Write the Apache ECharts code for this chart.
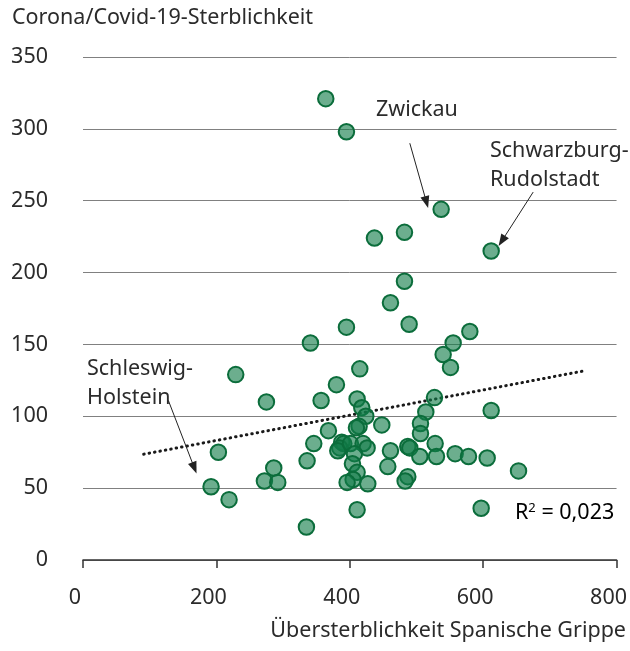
<!DOCTYPE html>
<html>
<head>
<meta charset="utf-8">
<script src="https://cdn.jsdelivr.net/npm/echarts@6/dist/echarts.min.js"></script>
<style>
  html, body { margin: 0; padding: 0; background: #fff; }
  #chart { width: 630px; height: 651px; }
</style>
</head>
<body>
<div id="chart"></div>
<script>
// Übersterblichkeit Spanische Grippe (x) vs. Corona/Covid-19-Sterblichkeit (y)
const xValues = [
  364, 395, 537, 437, 482, 612, 482, 461, 395, 489,
  580, 555, 341, 540, 551, 415, 229, 380, 527, 275,
  357, 411, 418, 424, 514, 612, 506, 506, 368, 414,
  410, 448, 346, 388, 391, 385, 382, 401, 420, 426,
  407, 461, 487, 490, 528, 336, 404, 505, 530, 558,
  578, 606, 286, 272, 292, 192, 219, 203, 411, 405,
  396, 457, 427, 487, 483, 653, 411, 335, 597
]
const yValues = [
  321, 298, 244, 224, 228, 215, 194, 179, 162, 164,
  159, 151, 151, 143, 134, 133, 129, 122, 113, 110,
  111, 112, 106, 100, 103, 104, 95, 88, 90, 93,
  92, 94, 81, 82, 81, 78, 76, 81, 81, 78,
  74, 76, 79, 78, 81, 69, 67, 72, 72, 74,
  72, 71, 64, 55, 54, 51, 42, 75, 61, 56,
  54, 65, 53, 58, 55, 62, 35, 23, 36
]
// Trendlinie (linear, R² = 0,023)
const trendX = [91, 749]
const trendY = [73.6, 131.4]

const yTicks = [0, 50, 100, 150, 200, 250, 300, 350]
const xTicks = [0, 200, 400, 600, 800]

const font = '"Noto Sans", Lato, sans-serif'
const textColor = '#2b2b2b'
const fs = 21.5

const points = xValues.map((x, i) => [x, yValues[i]])

const chart = echarts.init(document.getElementById('chart'))

const arrowLine = (from, to) => [
  { coord: from, symbol: 'none' },
  { coord: to, symbol: 'triangle' }
]

const option = {
  animation: false,
  grid: { left: 83, right: 2, top: 57, bottom: 91 },
  xAxis: {
    type: 'value',
    min: xTicks[0],
    max: xTicks[xTicks.length - 1],
    interval: 200,
    axisLine: { show: true, lineStyle: { color: '#333', width: 1.5 } },
    axisTick: { show: true, length: 8, lineStyle: { color: '#333', width: 1.5 } },
    splitLine: { show: false },
    axisLabel: {
      color: textColor, fontFamily: font, fontSize: fs, margin: 27,
      padding: [0, 16, 0, 0]
    }
  },
  yAxis: {
    type: 'value',
    min: yTicks[0],
    max: yTicks[yTicks.length - 1],
    interval: 50,
    axisLine: { show: false },
    axisTick: { show: false },
    splitLine: { lineStyle: { color: '#808080', width: 1 } },
    axisLabel: { color: textColor, fontFamily: font, fontSize: fs, margin: 35 }
  },
  series: [
    {
      type: 'line',
      data: trendX.map((x, i) => [x, trendY[i]]),
      showSymbol: false,
      lineStyle: { color: '#1a1a1a', width: 3, type: [0.5, 5], cap: 'round' },
      z: 3
    },
    {
      type: 'scatter',
      data: points,
      symbolSize: 15.5,
      itemStyle: {
        color: 'rgba(18, 124, 72, 0.62)',
        borderColor: '#0b6d3b',
        borderWidth: 2,
        opacity: 1
      },
      z: 4,
      markLine: {
        silent: true,
        symbolSize: [9, 12],
        label: { show: false },
        lineStyle: { color: '#222', width: 1, type: 'solid' },
        data: [
          arrowLine([490, 290], [515, 249]),
          arrowLine([675, 256], [628, 222]),
          arrowLine([128, 111], [167, 64])
        ]
      }
    }
  ],
  graphic: [
    {
      type: 'text', left: 12, top: 7,
      style: { text: 'Corona/Covid-19-Sterblichkeit', font: fs + 'px ' + font, fill: textColor }
    },
    {
      type: 'text', right: 4, top: 620,
      style: { text: 'Übersterblichkeit Spanische Grippe', font: fs + 'px ' + font, fill: textColor }
    },
    {
      type: 'text', left: 376, top: 99,
      style: { text: 'Zwickau', font: fs + 'px ' + font, fill: textColor }
    },
    {
      type: 'text', left: 490, top: 136,
      style: { text: 'Schwarzburg-\nRudolstadt', font: fs + 'px ' + font, fill: textColor, lineHeight: 29 }
    },
    {
      type: 'text', left: 87, top: 354,
      style: { text: 'Schleswig-\nHolstein', font: fs + 'px ' + font, fill: textColor, lineHeight: 29 }
    },
    {
      type: 'text', left: 515, top: 502,
      style: {
        text: '{r|R}{s|2}{r| = 0,023}',
        rich: {
          r: { fontFamily: font, fontSize: fs, color: textColor },
          s: { fontFamily: font, fontSize: 13, color: textColor, verticalAlign: 'top', padding: [0, 0, 8, 0] }
        }
      }
    }
  ]
}

chart.setOption(option)
</script>
</body>
</html>
